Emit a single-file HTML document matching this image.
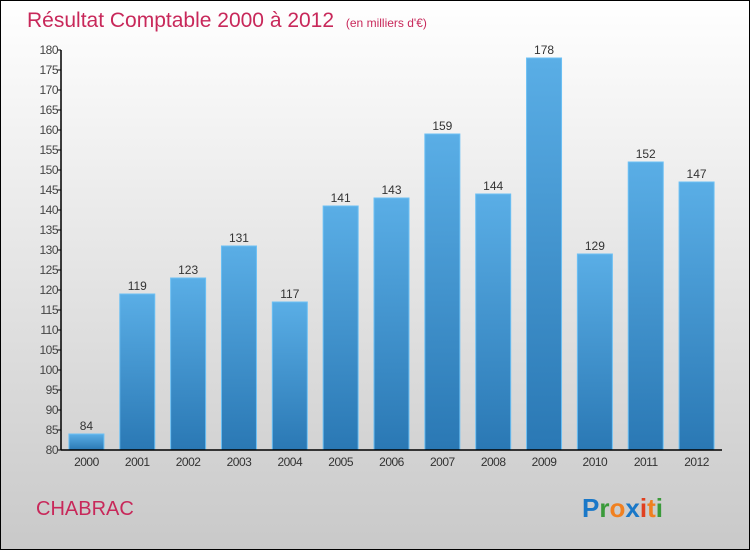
<!DOCTYPE html>
<html><head><meta charset="utf-8"><style>
html,body{margin:0;padding:0}
body{width:750px;height:550px;overflow:hidden;font-family:"Liberation Sans",sans-serif}
</style></head><body>
<svg width="750" height="550" xmlns="http://www.w3.org/2000/svg">
<defs>
<linearGradient id="bg" x1="0" y1="0" x2="0" y2="1"><stop offset="0" stop-color="#ffffff"/><stop offset="1" stop-color="#c9c9c9"/></linearGradient>
<linearGradient id="bar" x1="0" y1="0" x2="0" y2="1"><stop offset="0" stop-color="#5aaee6"/><stop offset="1" stop-color="#2a78b4"/></linearGradient>
</defs>
<rect x="0.5" y="0.5" width="749" height="549" fill="url(#bg)" stroke="#000"/>
<text x="27" y="27" font-size="21" fill="#c8285a">Résultat Comptable 2000 à 2012 <tspan font-size="12" dx="6">(en milliers d'€)</tspan></text>
<g id="plot"></g>
<text x="36" y="515" font-size="20" fill="#c8285a">CHABRAC</text>
<text x="582" y="517" font-size="26" font-weight="bold" font-family="Liberation Sans, sans-serif"><tspan fill="#1a78c8">P</tspan><tspan fill="#3a9a3a">r</tspan><tspan fill="#f08020">o</tspan><tspan fill="#1a78c8">x</tspan><tspan fill="#e04020">i</tspan><tspan fill="#f08020">t</tspan><tspan fill="#3a9a3a">i</tspan></text>
</svg>
<script>
const years=["2000","2001","2002","2003","2004","2005","2006","2007","2008","2009","2010","2011","2012"];
const values=[84,119,123,131,117,141,143,159,144,178,129,152,147];
const yTicks=[80,85,90,95,100,105,110,115,120,125,130,135,140,145,150,155,160,165,170,175,180];
const NS="http://www.w3.org/2000/svg";
const g=document.getElementById('plot');
const x0=61,x1=722,yTop=50,yBot=450,vMin=80,vMax=180;
const y=v=>yBot-(v-vMin)/(vMax-vMin)*(yBot-yTop);
const band=(x1-x0)/years.length;
const xc=i=>x0+band*(i+0.5);
function mk(tag,attrs,txt){const e=document.createElementNS(NS,tag);for(const k in attrs)e.setAttribute(k,attrs[k]);if(txt!==undefined)e.textContent=txt;g.appendChild(e);return e;}
yTicks.forEach(t=>{
 const l=mk('line',{x1:x0-4,x2:x0,y1:y(t),y2:y(t),stroke:'#000'});
 
 
 const tx=mk('text',{x:x0-3,y:y(t)+4,'text-anchor':'end','font-size':12,fill:'#444','letter-spacing':'-0.5'},t);
 
 
});
values.forEach((v,i)=>{
 const w=35;
 const r=mk('rect',{x:xc(i)-w/2,y:y(v),width:w,height:yBot-y(v),fill:'url(#bar)',stroke:'#6cc0f4','stroke-width':1});
 
 
 const vl=mk('text',{x:xc(i),y:y(v)-4,'text-anchor':'middle','font-size':12,fill:'#333'},v);
 
 
 const xl=mk('text',{x:xc(i),y:466,'text-anchor':'middle','font-size':12,fill:'#333','letter-spacing':'-0.5'},years[i]);
 
 
});
const ya=mk('line',{x1:x0,x2:x0,y1:yTop,y2:yBot,stroke:'#000','stroke-width':1.5});


const xa=mk('line',{x1:x0,x2:x1,y1:yBot,y2:yBot,stroke:'#000','stroke-width':1.5});


</script>
</body></html>
